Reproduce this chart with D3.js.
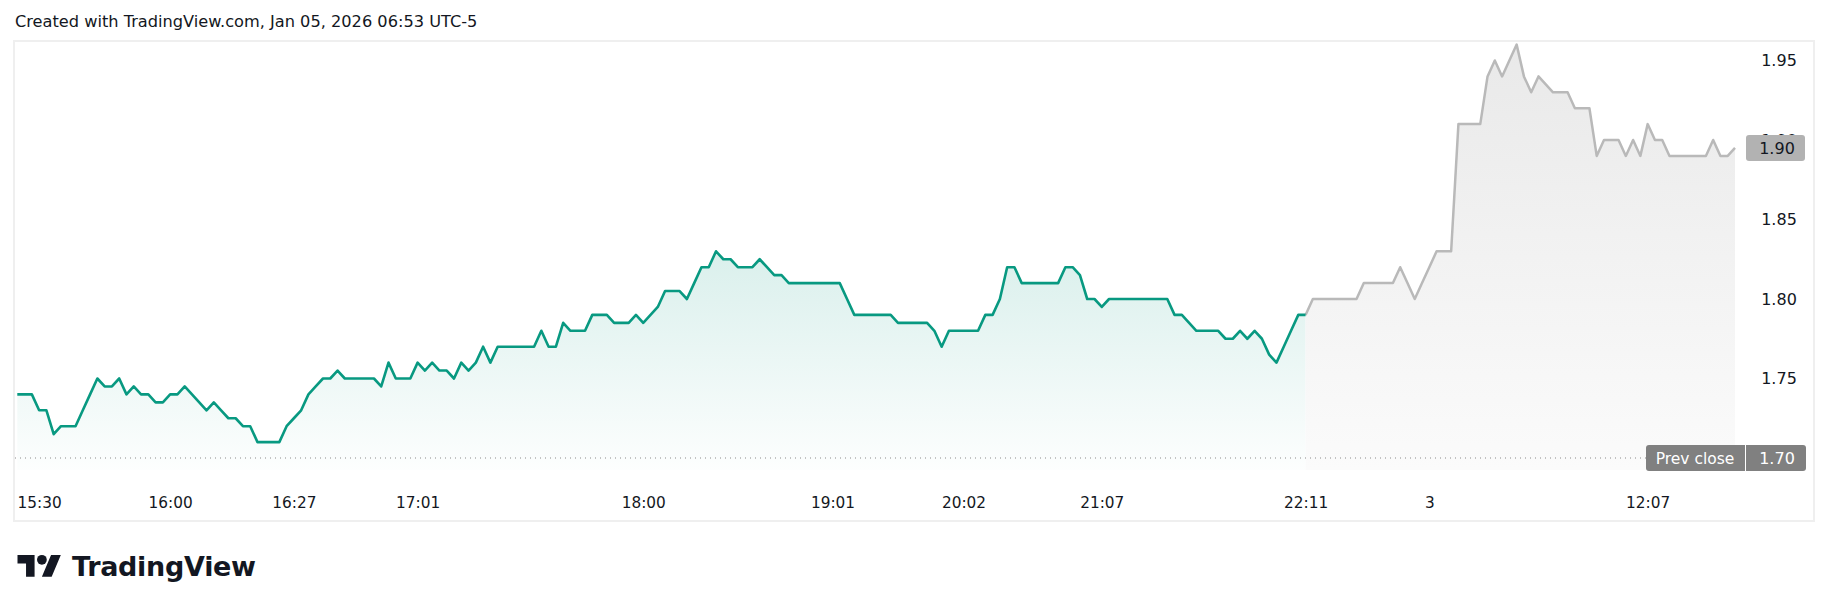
<!DOCTYPE html>
<html>
<head>
<meta charset="utf-8">
<script src="https://cdn.jsdelivr.net/npm/d3@7/dist/d3.min.js"></script>
<style>
  html, body { margin: 0; padding: 0; background: #ffffff; }
  svg { display: block; }
  text { font-family: "DejaVu Sans", sans-serif; }
</style>
</head>
<body>
<svg id="chart" width="1830" height="611"></svg>
<script>
// ---------------- data ----------------
const headerText = "Created with TradingView.com, Jan 05, 2026 06:53 UTC-5";

// price per bar (equal spacing, one value per bar)
const prices = [
  1.74, 1.74, 1.74, 1.73, 1.73, 1.715, 1.72, 1.72, 1.72, 1.73,
  1.74, 1.75, 1.745, 1.745, 1.75, 1.74, 1.745, 1.74, 1.74, 1.735,
  1.735, 1.74, 1.74, 1.745, 1.74, 1.735, 1.73, 1.735, 1.73, 1.725,
  1.725, 1.72, 1.72, 1.71, 1.71, 1.71, 1.71, 1.72, 1.725, 1.73,
  1.74, 1.745, 1.75, 1.75, 1.755, 1.75, 1.75, 1.75, 1.75, 1.75,
  1.745, 1.76, 1.75, 1.75, 1.75, 1.76, 1.755, 1.76, 1.755, 1.755,
  1.75, 1.76, 1.755, 1.76, 1.77, 1.76, 1.77, 1.77, 1.77, 1.77,
  1.77, 1.77, 1.78, 1.77, 1.77, 1.785, 1.78, 1.78, 1.78, 1.79,
  1.79, 1.79, 1.785, 1.785, 1.785, 1.79, 1.785, 1.79, 1.795, 1.805,
  1.805, 1.805, 1.80, 1.81, 1.82, 1.82, 1.83, 1.825, 1.825, 1.82,
  1.82, 1.82, 1.825, 1.82, 1.815, 1.815, 1.81, 1.81, 1.81, 1.81,
  1.81, 1.81, 1.81, 1.81, 1.80, 1.79, 1.79, 1.79, 1.79, 1.79,
  1.79, 1.785, 1.785, 1.785, 1.785, 1.785, 1.78, 1.77, 1.78, 1.78,
  1.78, 1.78, 1.78, 1.79, 1.79, 1.80, 1.82, 1.82, 1.81, 1.81,
  1.81, 1.81, 1.81, 1.81, 1.82, 1.82, 1.815, 1.80, 1.80, 1.795,
  1.80, 1.80, 1.80, 1.80, 1.80, 1.80, 1.80, 1.80, 1.80, 1.79,
  1.79, 1.785, 1.78, 1.78, 1.78, 1.78, 1.775, 1.775, 1.78, 1.775,
  1.78, 1.775, 1.765, 1.76, 1.77, 1.78, 1.79, 1.79, 1.80, 1.80,
  1.80, 1.80, 1.80, 1.80, 1.80, 1.81, 1.81, 1.81, 1.81, 1.81,
  1.82, 1.81, 1.80, 1.81, 1.82, 1.83, 1.83, 1.83, 1.91, 1.91,
  1.91, 1.91, 1.94, 1.95, 1.94, 1.95, 1.96, 1.94, 1.93, 1.94,
  1.935, 1.93, 1.93, 1.93, 1.92, 1.92, 1.92, 1.89, 1.90, 1.90,
  1.90, 1.89, 1.90, 1.89, 1.91, 1.90, 1.90, 1.89, 1.89, 1.89,
  1.89, 1.89, 1.89, 1.90, 1.89, 1.89, 1.895
];
// bar index where the regular (green) session ends and the grey session starts
const sessionSplit = 177;

const timeTickIndex = [3, 21, 38, 55, 86, 112, 130, 149, 177, 194, 224];
const timeTickLabels = ["15:30", "16:00", "16:27", "17:01", "18:00", "19:01", "20:02", "21:07", "22:11", "3", "12:07"];

const priceTicks = [1.70, 1.75, 1.80, 1.85, 1.90, 1.95];
const prevClose = 1.70;
const prevCloseLabel = "Prev close";

// ---------------- layout ----------------
const svg = d3.select("#chart");
const frame = { x: 14, y: 41, w: 1800, h: 480 };
const pane = { left: 15, right: 1745, top: 42, bottom: 470 };

const x = d3.scaleLinear().domain([0, prices.length - 1]).range([17.3, 1735]);
const y = d3.scaleLinear().domain([1.70, 1.95]).range([458, 60.5]);

const green = "#089981";
const greyLine = "#b9b9b9";

// header
svg.append("text")
  .attr("x", 15).attr("y", 27)
  .attr("font-size", 16.2)
  .attr("fill", "#131722")
  .text(headerText);

// frame
svg.append("rect")
  .attr("x", frame.x).attr("y", frame.y)
  .attr("width", frame.w).attr("height", frame.h)
  .attr("fill", "#ffffff")
  .attr("stroke", "#efefef").attr("stroke-width", 2);

const defs = svg.append("defs");
const greenPts = prices.slice(0, sessionSplit + 1).map((v, i) => [i, v]);
const greyPts = prices.slice(sessionSplit).map((v, i) => [i + sessionSplit, v]);

const gTop = y(d3.max(greenPts, d => d[1]));
const grTop = y(d3.max(greyPts, d => d[1]));

const gg = defs.append("linearGradient").attr("id", "gGreen")
  .attr("gradientUnits", "userSpaceOnUse")
  .attr("x1", 0).attr("x2", 0).attr("y1", gTop).attr("y2", pane.bottom);
gg.append("stop").attr("offset", 0).attr("stop-color", green).attr("stop-opacity", 0.15);
gg.append("stop").attr("offset", 1).attr("stop-color", green).attr("stop-opacity", 0.01);

const gr = defs.append("linearGradient").attr("id", "gGrey")
  .attr("gradientUnits", "userSpaceOnUse")
  .attr("x1", 0).attr("x2", 0).attr("y1", grTop).attr("y2", pane.bottom);
gr.append("stop").attr("offset", 0).attr("stop-color", "#e9e9e9");
gr.append("stop").attr("offset", 1).attr("stop-color", "#fbfbfb");

const area = d3.area().x(d => x(d[0])).y0(pane.bottom).y1(d => y(d[1]));
const line = d3.line().x(d => x(d[0])).y(d => y(d[1]));

svg.append("path").datum(greenPts).attr("d", area).attr("fill", "url(#gGreen)");
svg.append("path").datum(greyPts).attr("d", area).attr("fill", "url(#gGrey)");

// prev close dotted line
svg.append("line")
  .attr("x1", pane.left).attr("x2", pane.right)
  .attr("y1", y(prevClose)).attr("y2", y(prevClose))
  .attr("stroke", "#8a8a8a").attr("stroke-width", 1)
  .attr("stroke-dasharray", "1,4");

svg.append("path").datum(greyPts).attr("d", line)
  .attr("fill", "none").attr("stroke", greyLine).attr("stroke-width", 2.5)
  .attr("stroke-linejoin", "round");
svg.append("path").datum(greenPts).attr("d", line)
  .attr("fill", "none").attr("stroke", green).attr("stroke-width", 2.6)
  .attr("stroke-linejoin", "round");

// time axis
const xAxis = d3.axisBottom(x)
  .tickValues(timeTickIndex)
  .tickFormat((d, i) => timeTickLabels[i])
  .tickSize(0).tickPadding(0);
const xg = svg.append("g").attr("transform", `translate(0, 497)`).call(xAxis);
xg.select(".domain").remove();
xg.selectAll("text")
  .attr("font-family", "DejaVu Sans, sans-serif")
  .attr("font-size", 15.3)
  .attr("fill", "#131722")
  .attr("dy", "0.71em");

// price axis
const yAxis = d3.axisRight(y)
  .tickValues(priceTicks)
  .tickFormat(d3.format(".2f"))
  .tickSize(0).tickPadding(0);
const yg = svg.append("g").attr("transform", `translate(1779, 0)`).call(yAxis);
yg.select(".domain").remove();
yg.selectAll("text")
  .attr("font-family", "DejaVu Sans, sans-serif")
  .attr("font-size", 16)
  .attr("fill", "#131722")
  .attr("text-anchor", "middle");

// last value badge
const last = prices[prices.length - 1];
const lastY = y(last);
svg.append("rect")
  .attr("x", 1746).attr("y", lastY - 13).attr("width", 59).attr("height", 26)
  .attr("rx", 3).attr("fill", "#b2b2b2");
svg.append("text")
  .attr("x", 1777).attr("y", lastY).attr("dy", "0.36em")
  .attr("text-anchor", "middle").attr("font-size", 16).attr("fill", "#131722")
  .text(d3.format(".2f")(last));

// prev close badge
const pcY = y(prevClose);
svg.append("rect")
  .attr("x", 1646).attr("y", pcY - 13).attr("width", 160).attr("height", 26)
  .attr("rx", 3).attr("fill", "#808080");
svg.append("line")
  .attr("x1", 1745.5).attr("x2", 1745.5).attr("y1", pcY - 13).attr("y2", pcY + 13)
  .attr("stroke", "#ffffff").attr("stroke-width", 1);
svg.append("text")
  .attr("x", 1695).attr("y", pcY).attr("dy", "0.36em")
  .attr("text-anchor", "middle").attr("font-size", 15.5).attr("fill", "#ffffff")
  .text(prevCloseLabel);
svg.append("text")
  .attr("x", 1777).attr("y", pcY).attr("dy", "0.36em")
  .attr("text-anchor", "middle").attr("font-size", 16).attr("fill", "#ffffff")
  .text(d3.format(".2f")(prevClose));

// TradingView logo
const logo = svg.append("g").attr("transform", "translate(17.5, 550) scale(1.22)").attr("fill", "#131722");
logo.append("path").attr("d", "M14 22H7V11H0V4h14v18zM28 22h-8l7.5-18h8L28 22z");
logo.append("circle").attr("cx", 20).attr("cy", 8).attr("r", 4);
svg.append("text")
  .attr("x", 72).attr("y", 576)
  .attr("font-family", "Inter, sans-serif").attr("font-weight", 700)
  .attr("font-size", 27).attr("letter-spacing", -0.3).attr("fill", "#131722")
  .text("TradingView");
</script>
</body>
</html>
